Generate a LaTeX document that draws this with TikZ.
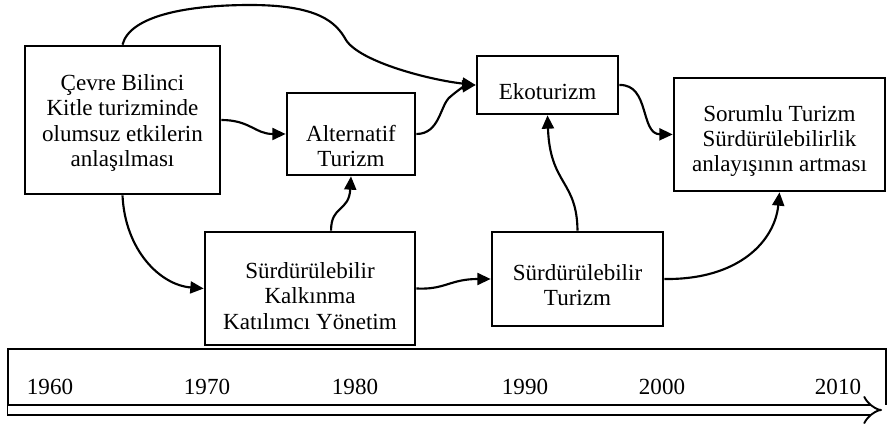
\documentclass[tikz,border=0pt]{standalone}
\usepackage{fontspec}
\setmainfont{Liberation Serif}
\usetikzlibrary{arrows.meta}

\begin{document}
\begin{tikzpicture}[x=0.75pt,y=0.75pt,yscale=-1,xscale=1,
  box/.style={draw, line width=2pt, inner sep=0pt},
  lbl/.style={align=center, inner sep=0pt, font=\fontsize{17.3pt}{18.9pt}\selectfont},
  conn/.style={line width=1.6pt, -{Triangle[length=10pt,width=9pt]}}]
\useasboundingbox (0,0) rectangle (889,424);

%Shape: Rectangle [cevre]
\node[box, minimum width=146.25pt, minimum height=111pt] (cevre) at (122.5,120) {};
%Shape: Rectangle [alt]
\node[box, minimum width=96pt, minimum height=61.5pt] (alt) at (351,134) {};
%Shape: Rectangle [eko]
\node[box, minimum width=105.75pt, minimum height=43.5pt] (eko) at (547.5,85) {};
%Shape: Rectangle [sor]
\node[box, minimum width=158.25pt, minimum height=84.75pt] (sor) at (779.5,134.5) {};
%Shape: Rectangle [kal]
\node[box, minimum width=157.5pt, minimum height=84.75pt] (kal) at (310,288.5) {};
%Shape: Rectangle [stur]
\node[box, minimum width=128.25pt, minimum height=70.5pt] (stur) at (577.5,279) {};

% Text Node
\node[lbl] (cevre-t) at (122.5,123) {Çevre Bilinci\\Kitle turizminde\\olumsuz etkilerin\\anlaşılması};
% Text Node
\node[lbl] (alt-t) at (351,146) {Alternatif\\Turizm};
% Text Node
\node[lbl] (eko-t) at (547.5,92) {Ekoturizm};
% Text Node
\node[lbl] (sor-t) at (779.5,141) {Sorumlu Turizm\\Sürdürülebilirlik\\anlayışının artması};
% Text Node
\node[lbl] (kal-t) at (310,296) {Sürdürülebilir\\Kalkınma\\Katılımcı Yönetim};
% Text Node
\node[lbl] (stur-t) at (577.5,285) {Sürdürülebilir\\Turizm};

%Curve Lines
\draw[conn] (cevre.north) .. controls (130,15) and (190,5) .. (250,5) .. controls (318,5) and (336,22) .. (346,40) .. controls (360,62) and (430,80) .. (eko.west);
\draw[conn] (cevre.east) .. controls (250,120) and (255,134) .. (alt.west);
\draw[conn] (cevre.south) .. controls (125,250) and (160,285) .. (kal.west);
\draw[conn] (kal.70) .. controls (331,205) and (349,212) .. (alt.south);
\draw[conn] (alt.east) .. controls (440,134) and (440,105) .. (450,97) .. controls (458,90) and (465,86) .. (eko.west);
\draw[conn] (kal.east) .. controls (445,290) and (450,279) .. (stur.west);
\draw[conn] (stur.north) .. controls (577,180) and (550,185) .. (eko.south);
\draw[conn] (eko.east) .. controls (650,84) and (640,134) .. (sor.west);
\draw[conn] (stur.east) .. controls (740,280) and (775,240) .. (sor.south);

%Shape: Time line
\draw[line width=1.6pt] (8,416) -- (8,349) -- (886,349) -- (886,405);
\draw[line width=1.4pt, double distance=6pt, -{Implies}] (8,410) -- (882,410);

% Text Node
\node[lbl] (y1960) at (50,387) {1960};
% Text Node
\node[lbl] (y1970) at (207,387) {1970};
% Text Node
\node[lbl] (y1980) at (355,387) {1980};
% Text Node
\node[lbl] (y1990) at (525,387) {1990};
% Text Node
\node[lbl] (y2000) at (662,387) {2000};
% Text Node
\node[lbl] (y2010) at (838,387) {2010};

\end{tikzpicture}
\end{document}
